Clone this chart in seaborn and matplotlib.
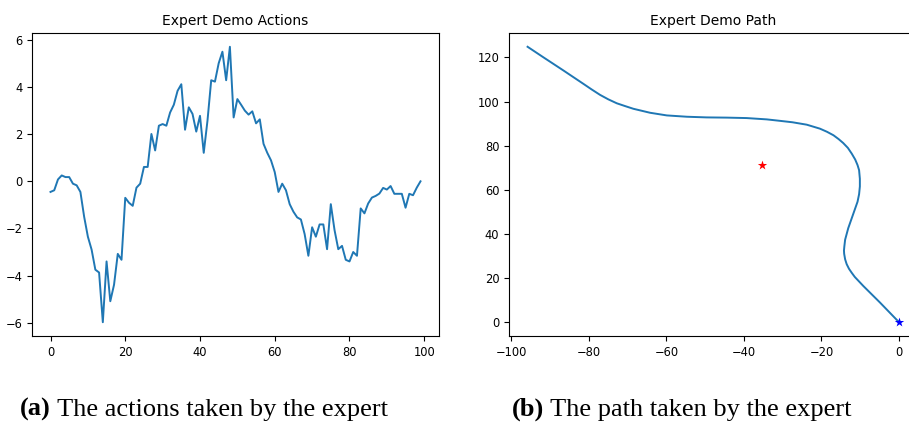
import matplotlib
matplotlib.use("Agg")
import matplotlib.pyplot as plt
import seaborn as sns
import pandas as pd

# Expert actions over one 100-step demonstration
actions = [
    -0.45, -0.38, 0.08, 0.25, 0.18, 0.18, -0.10, -0.17, -0.45, -1.50,
    -2.35, -2.90, -3.75, -3.87, -5.98, -3.40, -5.09, -4.39, -3.08, -3.33,
    -0.70, -0.91, -1.04, -0.27, -0.10, 0.61, 0.61, 2.01, 1.31, 2.36,
    2.43, 2.36, 2.92, 3.25, 3.84, 4.12, 2.19, 3.14, 2.86, 2.11,
    2.78, 1.21, 2.57, 4.29, 4.23, 5.01, 5.50, 4.29, 5.71, 2.71,
    3.49, 3.25, 3.00, 2.83, 2.97, 2.46, 2.63, 1.59, 1.21, 0.89,
    0.39, -0.45, -0.10, -0.38, -0.97, -1.29, -1.53, -1.62, -2.24, -3.16,
    -1.95, -2.35, -1.83, -1.83, -2.88, -0.97, -2.07, -2.88, -2.74, -3.33,
    -3.40, -3.00, -3.16, -1.15, -1.36, -0.94, -0.69, -0.62, -0.52, -0.28,
    -0.35, -0.20, -0.53, -0.53, -0.53, -1.12, -0.53, -0.59, -0.27, 0.00,
]
steps = list(range(len(actions)))

# Vehicle path, from the start point outward
path_x = [0.0, -4.9, -9.2, -11.4, -12.2, -12.9, -13.5, -13.9, -14.15, -14.2,
          -14.1, -13.9, -13.1, -11.9, -10.7, -10.3, -10.1, -10.1, -10.3, -10.7,
          -11.3, -12.2, -13.2, -14.4, -15.6, -16.9, -18.6, -20.4, -23.8, -27.5,
          -31.0, -34.1, -39.3, -44.4, -49.6, -54.7, -59.9, -64.2, -68.5, -70.6,
          -72.8, -75.0, -77.1, -79.3, -81.4, -86.5, -91.7, -95.8]
path_y = [0.0, 8.9, 16.4, 20.5, 22.4, 24.2, 26.3, 28.5, 31.0, 32.5,
          34.4, 37.4, 42.6, 48.6, 54.6, 58.0, 61.5, 65.0, 68.9, 71.2,
          73.7, 76.4, 79.0, 81.2, 83.0, 84.7, 86.3, 87.7, 89.5, 90.6,
          91.3, 91.9, 92.5, 92.7, 92.8, 93.1, 93.7, 94.9, 96.7, 97.9,
          99.2, 101.0, 103.0, 105.5, 108.0, 114.0, 120.0, 124.8]
start_xy = (0.0, 0.0)
goal_xy = (-35.4, 71.3)

titles = ["Expert Demo Actions", "Expert Demo Path"]
caption_tags = ["(a)", "(b)"]
caption_texts = [" The actions taken by the expert", " The path taken by the expert"]

plt.rcParams.update({
    "font.family": ["DejaVu Sans"],
    "xtick.labelsize": 8.3,
    "ytick.labelsize": 8.3,
    "axes.titlesize": 10,
    "axes.linewidth": 0.8,
})

fig = plt.figure(figsize=(9.09, 4.23), dpi=100)
ax1 = fig.add_axes([32 / 909, 87 / 423, 407 / 909, 303 / 423])
ax2 = fig.add_axes([509 / 909, 87 / 423, 408.6 / 909, 303 / 423])

blue = "#1f77b4"

df_act = pd.DataFrame({"step": steps, "action": actions})
sns.lineplot(data=df_act, x="step", y="action", ax=ax1, color=blue, linewidth=1.4)
ax1.set_title(titles[0])
ax1.set_xlabel("")
ax1.set_ylabel("")
ax1.set_yticks([-6, -4, -2, 0, 2, 4, 6])
ax1.set_xticks([0, 20, 40, 60, 80, 100])

df_path = pd.DataFrame({"x": path_x, "y": path_y})
sns.lineplot(data=df_path, x="x", y="y", ax=ax2, color=blue, linewidth=1.4,
             sort=False, estimator=None)
sns.scatterplot(x=[goal_xy[0]], y=[goal_xy[1]], ax=ax2, color="red", marker="*",
                s=50, linewidth=0, zorder=3)
sns.scatterplot(x=[start_xy[0]], y=[start_xy[1]], ax=ax2, color="blue", marker="*",
                s=50, linewidth=0, zorder=3)
ax2.set_title(titles[1])
ax2.set_xlabel("")
ax2.set_ylabel("")
ax2.set_xticks([-100, -80, -60, -40, -20, 0])
ax2.set_yticks([0, 20, 40, 60, 80, 100, 120])

# Subfigure captions: bold tag followed by regular text
serif = ["Liberation Serif", "DejaVu Serif"]
for xpos, tag, txt in zip([20 / 909, 512 / 909], caption_tags, caption_texts):
    t = fig.text(xpos, 7 / 423, tag, family=serif, fontweight="bold",
                 fontsize=19, va="baseline", ha="left")
    ax1.annotate(txt, xy=(1, 0), xycoords=t, family=serif, fontsize=19,
                 va="bottom", ha="left", annotation_clip=False)

fig.savefig("out.png", dpi=100)
